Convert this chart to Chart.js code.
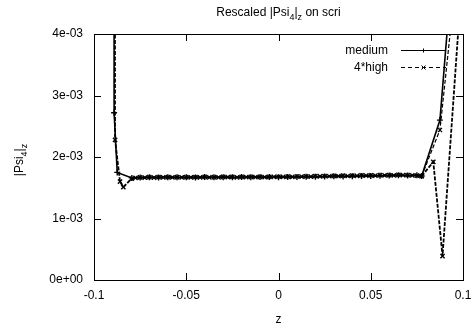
<!DOCTYPE html>
<html>
<head>
<meta charset="utf-8">
<script src="https://cdn.jsdelivr.net/npm/chart.js@4/dist/chart.umd.min.js"></script>
<style>
  html, body { margin: 0; padding: 0; background: #fff; }
  #wrap { width: 473px; height: 333px; }
</style>
</head>
<body>
<div id="wrap"><canvas id="psiChart"></canvas></div>
<script>
// data
const zMedium = [-0.0893, -0.0891, -0.0874, -0.0795,
  -0.075, -0.07, -0.065, -0.06, -0.055, -0.05, -0.045, -0.04, -0.035, -0.03, -0.025,
  -0.02, -0.015, -0.01, -0.005, 0, 0.005, 0.01, 0.015, 0.02, 0.025,
  0.03, 0.035, 0.04, 0.045, 0.05, 0.055, 0.06, 0.065, 0.07, 0.075,
  0.0776, 0.0875, 0.0955];
const psiMedium = [2.0e-2, 2.72e-3, 1.75e-3, 1.66e-3,
  1.665e-3, 1.670e-3, 1.668e-3, 1.672e-3, 1.669e-3, 1.671e-3, 1.668e-3, 1.673e-3, 1.670e-3, 1.672e-3, 1.669e-3,
  1.674e-3, 1.671e-3, 1.673e-3, 1.675e-3, 1.672e-3, 1.676e-3, 1.674e-3, 1.678e-3, 1.680e-3, 1.683e-3,
  1.686e-3, 1.684e-3, 1.689e-3, 1.692e-3, 1.690e-3, 1.695e-3, 1.698e-3, 1.702e-3, 1.699e-3, 1.703e-3,
  1.69e-3, 2.60e-3, 5.55e-3];

const zHigh = [-0.0890, -0.0886, -0.0859, -0.0841, -0.0796,
  -0.0775, -0.075, -0.0725, -0.07, -0.0675, -0.065, -0.0625, -0.06, -0.0575, -0.055,
  -0.0525, -0.05, -0.0475, -0.045, -0.0425, -0.04, -0.0375, -0.035, -0.0325, -0.03,
  -0.0275, -0.025, -0.0225, -0.02, -0.0175, -0.015, -0.0125, -0.01, -0.0075, -0.005,
  -0.0025, 0, 0.0025, 0.005, 0.0075, 0.01, 0.0125, 0.015, 0.0175, 0.02,
  0.0225, 0.025, 0.0275, 0.03, 0.0325, 0.035, 0.0375, 0.04, 0.0425, 0.045,
  0.0475, 0.05, 0.0525, 0.055, 0.0575, 0.06, 0.0625, 0.065, 0.0675, 0.07,
  0.0725, 0.075, 0.0776, 0.0839, 0.0889, 0.1];
const psiHigh = [2.0e-2, 2.28e-3, 1.60e-3, 1.51e-3, 1.65e-3,
  1.662e-3, 1.668e-3, 1.664e-3, 1.671e-3, 1.666e-3, 1.672e-3, 1.667e-3, 1.673e-3, 1.668e-3, 1.674e-3,
  1.669e-3, 1.672e-3, 1.667e-3, 1.674e-3, 1.669e-3, 1.675e-3, 1.670e-3, 1.673e-3, 1.668e-3, 1.675e-3,
  1.671e-3, 1.676e-3, 1.670e-3, 1.677e-3, 1.672e-3, 1.676e-3, 1.673e-3, 1.678e-3, 1.674e-3, 1.677e-3,
  1.675e-3, 1.679e-3, 1.676e-3, 1.681e-3, 1.678e-3, 1.683e-3, 1.680e-3, 1.686e-3, 1.682e-3, 1.688e-3,
  1.684e-3, 1.691e-3, 1.687e-3, 1.693e-3, 1.689e-3, 1.696e-3, 1.691e-3, 1.698e-3, 1.694e-3, 1.700e-3,
  1.696e-3, 1.703e-3, 1.698e-3, 1.705e-3, 1.700e-3, 1.707e-3, 1.702e-3, 1.709e-3, 1.704e-3, 1.707e-3,
  1.702e-3, 1.698e-3, 1.69e-3, 1.92e-3, 0.39e-3, 5.16e-3];

// second branch of 4*high near the right edge
const zHighBranch = [0.0776, 0.0875, 0.0975];
const psiHighBranch = [1.69e-3, 2.44e-3, 5.28e-3];

const xTicks = [-0.1, -0.05, 0, 0.05, 0.1];
const xTickLabels = ['-0.1', '-0.05', '0', '0.05', '0.1'];
const yTicks = [0, 1e-3, 2e-3, 3e-3, 4e-3];
const yTickLabels = ['0e+00', '1e-03', '2e-03', '3e-03', '4e-03'];

const FONT = 'Liberation Sans, Arial, sans-serif';

function toPoints(xs, ys) {
    return xs.map((x, i) => ({ x: x, y: ys[i] }));
}

// text with subscripts: parts = [[text, isSub], ...]
function drawRich(ctx, parts, x, y, align) {
    let total = 0;
    parts.forEach(p => {
        ctx.font = (p[1] ? '9px ' : '12px ') + FONT;
        total += ctx.measureText(p[0]).width;
    });
    let cx = align === 'center' ? x - total / 2 : x;
    ctx.textAlign = 'left';
    ctx.textBaseline = 'alphabetic';
    parts.forEach(p => {
        ctx.font = (p[1] ? '9px ' : '12px ') + FONT;
        ctx.fillText(p[0], cx, p[1] ? y + 4 : y);
        cx += ctx.measureText(p[0]).width;
    });
}

const gnuplotFrame = {
    id: 'gnuplotFrame',
    afterDraw(chart) {
        const ctx = chart.ctx;
        const a = chart.chartArea;
        const xs = chart.scales.x, ys = chart.scales.y;
        ctx.save();
        ctx.strokeStyle = '#000';
        ctx.fillStyle = '#000';
        ctx.lineWidth = 1;
        ctx.setLineDash([]);
        ctx.strokeRect(Math.round(a.left) + 0.5, Math.round(a.top) + 0.5,
            Math.round(a.right - a.left), Math.round(a.bottom - a.top));
        // inward ticks on all four sides
        const tl = 7;
        ctx.beginPath();
        xTicks.forEach(v => {
            const px = Math.round(xs.getPixelForValue(v)) + 0.5;
            ctx.moveTo(px, a.bottom); ctx.lineTo(px, a.bottom - tl);
            ctx.moveTo(px, a.top); ctx.lineTo(px, a.top + tl);
        });
        yTicks.forEach(v => {
            const py = Math.round(ys.getPixelForValue(v)) + 0.5;
            ctx.moveTo(a.left, py); ctx.lineTo(a.left + tl, py);
            ctx.moveTo(a.right, py); ctx.lineTo(a.right - tl, py);
        });
        ctx.stroke();

        // title
        drawRich(ctx, [['Rescaled |Psi', false], ['4', true], ['|', false], ['z', true], [' on scri', false]],
            (a.left + a.right) / 2, 16, 'center');
        // x label
        ctx.font = '12px ' + FONT;
        ctx.textAlign = 'center';
        ctx.fillText('z', (a.left + a.right) / 2, 323);
        // y label, rotated
        ctx.save();
        ctx.translate(23, 160);
        ctx.rotate(-Math.PI / 2);
        drawRich(ctx, [['|Psi', false], ['4', true], ['|', false], ['z', true]], 0, 0, 'center');
        ctx.restore();

        // key
        const keys = [chart.data.datasets[0], chart.data.datasets[1]];
        keys.forEach((ds, i) => {
            const yk = 50 + i * 17;
            ctx.font = '12px ' + FONT;
            ctx.textAlign = 'right';
            ctx.textBaseline = 'middle';
            ctx.fillText(ds.label, 388, yk + 1);
            ctx.beginPath();
            ctx.lineWidth = 1;
            ctx.setLineDash(ds.borderDash ? [4, 3] : []);
            ctx.moveTo(401, yk + 0.5);
            ctx.lineTo(446, yk + 0.5);
            ctx.stroke();
            ctx.setLineDash([]);
            ctx.beginPath();
            const mx = 423.5, my = yk + 0.5, r = 2;
            if (ds.pointStyle === 'cross') {
                ctx.moveTo(mx - r, my); ctx.lineTo(mx + r, my);
                ctx.moveTo(mx, my - r); ctx.lineTo(mx, my + r);
            } else {
                ctx.moveTo(mx - r, my - r); ctx.lineTo(mx + r, my + r);
                ctx.moveTo(mx - r, my + r); ctx.lineTo(mx + r, my - r);
            }
            ctx.stroke();
        });
        ctx.restore();
    }
};

const ctx = document.getElementById('psiChart').getContext('2d');
const psiChart = new Chart(ctx, {
    type: 'scatter',
    data: {
        datasets: [
            {
                label: 'medium',
                data: toPoints(zMedium, psiMedium),
                showLine: true,
                borderColor: '#000',
                backgroundColor: '#000',
                borderWidth: 1.6,
                pointStyle: 'cross',
                pointRadius: 3,
                pointBorderWidth: 1.4
            },
            {
                label: '4*high',
                data: toPoints(zHigh, psiHigh),
                showLine: true,
                borderColor: '#000',
                backgroundColor: '#000',
                borderWidth: 1.8,
                borderDash: [4, 1.5],
                pointStyle: 'crossRot',
                pointRadius: 3,
                pointBorderWidth: 1.4
            },
            {
                label: '',
                data: toPoints(zHighBranch, psiHighBranch),
                showLine: true,
                borderColor: '#000',
                backgroundColor: '#000',
                borderWidth: 1.2,
                borderDash: [4, 2],
                pointStyle: 'crossRot',
                pointRadius: 3,
                pointBorderWidth: 1.2
            }
        ]
    },
    options: {
        responsive: true,
        maintainAspectRatio: false,
        animation: false,
        layout: { padding: { left: 0, right: 10, top: 34, bottom: 0 } },
        plugins: {
            legend: { display: false },
            title: { display: false },
            tooltip: { enabled: false }
        },
        scales: {
            x: {
                type: 'linear',
                min: -0.1,
                max: 0.1,
                grid: { display: false, drawTicks: false },
                border: { display: false },
                afterBuildTicks: s => { s.ticks = xTicks.map(v => ({ value: v })); },
                afterFit: s => { s.height = 53; s.paddingLeft = 0; s.paddingRight = 0; },
                ticks: {
                    padding: 8,
                    color: '#000',
                    font: { family: FONT, size: 12 },
                    maxRotation: 0,
                    callback: (v, i) => xTickLabels[i]
                }
            },
            y: {
                type: 'linear',
                min: 0,
                max: 4e-3,
                grid: { display: false, drawTicks: false },
                border: { display: false },
                afterBuildTicks: s => { s.ticks = yTicks.map(v => ({ value: v })); },
                afterFit: s => { s.width = 94; s.paddingTop = 0; s.paddingBottom = 0; },
                ticks: {
                    padding: 11,
                    color: '#000',
                    font: { family: FONT, size: 12 },
                    callback: (v, i) => yTickLabels[i]
                }
            }
        }
    },
    plugins: [gnuplotFrame]
});
</script>
</body>
</html>
